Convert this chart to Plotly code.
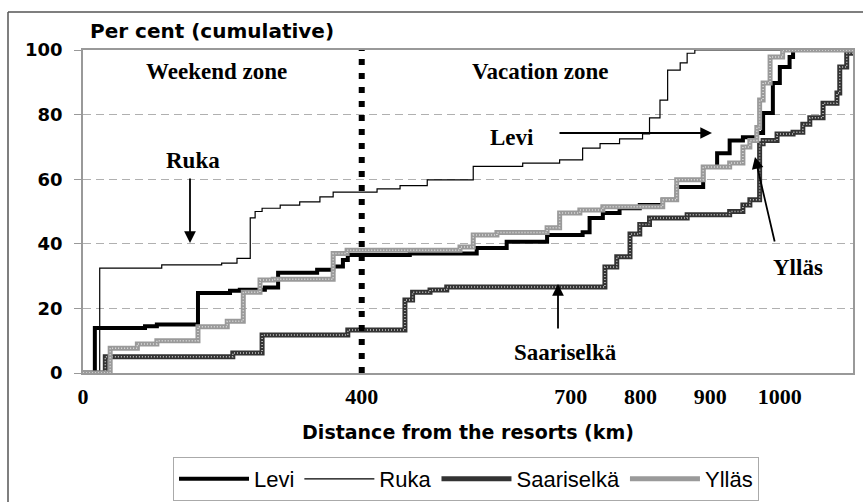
import plotly.graph_objects as go

# ---- data ----
levi_km = [0, 17, 89, 106, 165, 211, 225, 261, 280, 336, 359, 373, 380, 469, 565, 608, 666, 717, 727, 746,
           770, 799, 832, 852, 890, 910, 928, 947, 967, 976, 990, 1000, 1014, 1019, 1105]
levi_pct = [0, 13.9, 14.5, 15, 24.8, 25.5, 25.8, 26.5, 31, 32, 33, 35, 36.5, 37, 38.7, 40.6, 42.7, 43.6, 48,
            49.5, 51, 52, 53.6, 57.6, 63.8, 68, 72, 73, 74.3, 80.5, 89.8, 94.7, 97.8, 100, 100]

ruka_km = [0, 24, 113, 199, 221, 240, 247, 257, 283, 311, 340, 359, 422, 455, 494, 560, 631, 684, 717,
           742, 770, 803, 813, 828, 839, 857, 867, 878, 1105]
ruka_pct = [0, 32.5, 33.5, 34, 35.5, 48, 50, 51, 52, 53, 54.5, 56, 57, 58, 59.8, 64, 65, 66, 69.6,
            71, 72.5, 74, 79, 84.5, 93.8, 96, 99, 100, 100]

saari_km = [0, 32, 215, 257, 380, 462, 473, 498, 522, 749, 766, 785, 799, 813, 867, 928, 947, 957,
            971, 976, 996, 1019, 1033, 1043, 1062, 1082, 1086, 1096, 1105]
saari_pct = [0, 5, 6.2, 11.8, 13.3, 22.6, 25, 25.7, 26.6, 32.8, 36, 43, 46, 48, 49, 50, 52, 53.6,
             71, 72, 74, 74.5, 77, 79, 83.5, 86.7, 94.7, 99, 100]

yllas_km = [0, 39, 78, 106, 165, 207, 230, 254, 273, 359, 379, 541, 560, 594, 666, 684, 713, 746,
            832, 852, 890, 928, 947, 957, 967, 971, 976, 986, 1004, 1105]
yllas_pct = [0, 7.7, 9, 10, 14.3, 16, 25, 28.8, 29, 37, 38, 39, 42.7, 43.5, 45, 49.5, 50.5, 51.5,
             53.6, 59.8, 63.8, 65, 70, 72, 76, 84.5, 89.8, 97.8, 100, 100]

x_ticks = [0, 400, 700, 800, 900, 1000]
y_ticks = [0, 20, 40, 60, 80, 100]
zone_border_km = 400

SANS_B = "DejaVu Sans"
SERIF = "Liberation Serif"

fig = go.Figure()

fig.add_trace(go.Scatter(x=levi_km, y=levi_pct, name="Levi", mode="lines",
                         line=dict(color="black", width=4, shape="hv")))
fig.add_trace(go.Scatter(x=ruka_km, y=ruka_pct, name="Ruka", mode="lines",
                         line=dict(color="black", width=1.2, shape="hv")))
fig.add_trace(go.Scatter(x=saari_km, y=saari_pct, name="Saariselkä", mode="lines",
                         line=dict(color="#333333", width=5, shape="hv")))
fig.add_trace(go.Scatter(x=saari_km, y=saari_pct, showlegend=False, mode="lines", hoverinfo="skip",
                         line=dict(color="#c8c8c8", width=1.5, shape="hv", dash="1px,2px")))
fig.add_trace(go.Scatter(x=yllas_km, y=yllas_pct, name="Ylläs", mode="lines",
                         line=dict(color="#9a9a9a", width=5, shape="hv")))
fig.add_trace(go.Scatter(x=yllas_km, y=yllas_pct, showlegend=False, mode="lines", hoverinfo="skip",
                         line=dict(color="#dedede", width=1.5, shape="hv", dash="1px,2px")))

fig.add_shape(type="line", xref="x", yref="y", x0=zone_border_km, x1=zone_border_km, y0=0, y1=100,
              line=dict(color="black", width=6, dash="6px,8px"))

L, R, T, B = 83, 10, 50, 129
W, H = 863, 502
PW, PH = W - L - R, H - T - B


def px(xp):
    return (xp - L) / PW


def py(yp):
    return (H - B - yp) / PH


fig.add_shape(type="line", xref="paper", yref="paper", x0=px(8), x1=px(8), y0=py(12), y1=py(502),
              line=dict(color="#555", width=1.5))
fig.add_shape(type="line", xref="paper", yref="paper", x0=px(8), x1=px(863), y0=py(12), y1=py(12),
              line=dict(color="#555", width=1.5))

ann = []
ann.append(dict(text="Per cent (cumulative)", x=px(88), y=py(31), xanchor="left", yanchor="middle",
                font=dict(family=SANS_B, size=20, color="black", weight="bold")))
for txt, cx, cy in [("Weekend zone", 216, 71), ("Vacation zone", 540, 71), ("Ruka", 193, 160),
                    ("Levi", 512, 137), ("Ylläs", 798, 267), ("Saariselkä", 565, 352)]:
    ann.append(dict(text=txt, x=px(cx), y=py(cy), xanchor="center", yanchor="middle",
                    font=dict(family=SERIF, size=23, color="black", weight="bold")))
for tx, ty, hx, hy in [(190, 177, 190, 243), (558, 133, 712, 133), (775, 243, 755, 157), (558, 330, 558, 284)]:
    ann.append(dict(text="", x=px(hx), y=py(hy), ax=tx - hx, ay=ty - hy, showarrow=True,
                    arrowhead=2, arrowsize=1.3, arrowwidth=1.8, arrowcolor="black"))
for a in ann:
    a.setdefault("xref", "paper")
    a.setdefault("yref", "paper")
    a.setdefault("showarrow", False)

fig.update_layout(
    width=W, height=H,
    margin=dict(l=L, r=R, t=T, b=B, autoexpand=False),
    paper_bgcolor="white", plot_bgcolor="white",
    annotations=ann,
    showlegend=True,
    legend=dict(orientation="h", x=px(466), xanchor="center", y=py(457), yanchor="top",
                bgcolor="white", bordercolor="#aaaaaa", borderwidth=1,
                font=dict(family="Liberation Sans", size=22, color="black"),
                itemwidth=70, traceorder="normal"),
    xaxis=dict(range=[0, 1105], tickvals=x_ticks, ticktext=[str(v) for v in x_ticks], automargin=False,
               showgrid=False, zeroline=False, showline=True, linecolor="#999", linewidth=2, mirror=True,
               ticks="outside", ticklen=3, tickcolor="rgba(0,0,0,0)",
               tickfont=dict(family=SERIF, size=22, color="black", weight="bold"),
               title=dict(text="Distance from the resorts (km)", standoff=17,
                          font=dict(family=SANS_B, size=19, color="black", weight="bold"))),
    yaxis=dict(range=[0, 100], tickvals=y_ticks, showgrid=True, gridcolor="#b0b0b0", gridwidth=1,
               griddash="8px,5px", zeroline=False, showline=True, linecolor="#999", linewidth=1.5,
               mirror=True, ticks="outside", ticklen=7, tickcolor="#999", automargin=False,
               ticklabelstandoff=8,
               tickfont=dict(family=SANS_B, size=18, color="black", weight="bold")),
)

fig.write_html("out.html", config={"displayModeBar": False},
               post_script="document.body.style.margin='0';")
